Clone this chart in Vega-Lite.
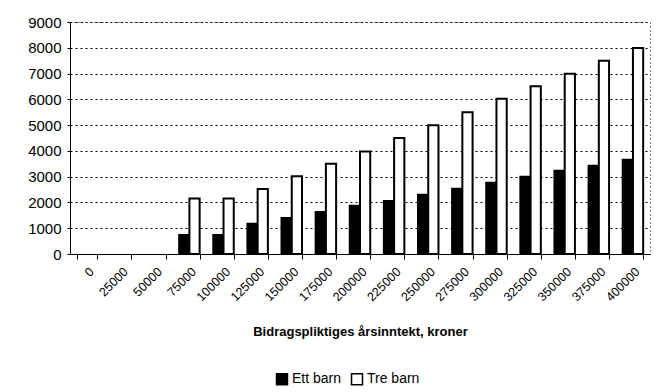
{
  "$schema": "https://vega.github.io/schema/vega-lite/v6.json",
  "width": 580,
  "height": 232,
  "autosize": "none",
  "padding": {"left": 70, "top": 22, "right": 6, "bottom": 138},
  "background": "white",
  "config": {
    "font": "Liberation Sans",
    "view": {"stroke": "black", "strokeDash": [1, 3], "strokeWidth": 1}
  },
  "data": {
    "values": [
      {"inntekt": "0", "serie": "Ett barn", "bidrag": 0},
      {"inntekt": "0", "serie": "Tre barn", "bidrag": 0},
      {"inntekt": "25000", "serie": "Ett barn", "bidrag": 0},
      {"inntekt": "25000", "serie": "Tre barn", "bidrag": 0},
      {"inntekt": "50000", "serie": "Ett barn", "bidrag": 0},
      {"inntekt": "50000", "serie": "Tre barn", "bidrag": 0},
      {"inntekt": "75000", "serie": "Ett barn", "bidrag": 740},
      {"inntekt": "75000", "serie": "Tre barn", "bidrag": 2150},
      {"inntekt": "100000", "serie": "Ett barn", "bidrag": 740},
      {"inntekt": "100000", "serie": "Tre barn", "bidrag": 2150},
      {"inntekt": "125000", "serie": "Ett barn", "bidrag": 1170},
      {"inntekt": "125000", "serie": "Tre barn", "bidrag": 2520},
      {"inntekt": "150000", "serie": "Ett barn", "bidrag": 1400},
      {"inntekt": "150000", "serie": "Tre barn", "bidrag": 3020},
      {"inntekt": "175000", "serie": "Ett barn", "bidrag": 1630},
      {"inntekt": "175000", "serie": "Tre barn", "bidrag": 3500},
      {"inntekt": "200000", "serie": "Ett barn", "bidrag": 1870},
      {"inntekt": "200000", "serie": "Tre barn", "bidrag": 3980},
      {"inntekt": "225000", "serie": "Ett barn", "bidrag": 2060},
      {"inntekt": "225000", "serie": "Tre barn", "bidrag": 4500},
      {"inntekt": "250000", "serie": "Ett barn", "bidrag": 2300},
      {"inntekt": "250000", "serie": "Tre barn", "bidrag": 4990},
      {"inntekt": "275000", "serie": "Ett barn", "bidrag": 2530},
      {"inntekt": "275000", "serie": "Tre barn", "bidrag": 5500},
      {"inntekt": "300000", "serie": "Ett barn", "bidrag": 2760},
      {"inntekt": "300000", "serie": "Tre barn", "bidrag": 6020},
      {"inntekt": "325000", "serie": "Ett barn", "bidrag": 3000},
      {"inntekt": "325000", "serie": "Tre barn", "bidrag": 6510},
      {"inntekt": "350000", "serie": "Ett barn", "bidrag": 3230},
      {"inntekt": "350000", "serie": "Tre barn", "bidrag": 6990},
      {"inntekt": "375000", "serie": "Ett barn", "bidrag": 3420},
      {"inntekt": "375000", "serie": "Tre barn", "bidrag": 7500},
      {"inntekt": "400000", "serie": "Ett barn", "bidrag": 3660},
      {"inntekt": "400000", "serie": "Tre barn", "bidrag": 7990}
    ]
  },
  "mark": {"type": "bar", "strokeWidth": 2},
  "encoding": {
    "x": {
      "field": "inntekt",
      "type": "nominal",
      "sort": null,
      "scale": {"paddingInner": 0.4, "paddingOuter": 0.2},
      "axis": {
        "title": "Bidragspliktiges årsinntekt, kroner",
        "titleFont": "Liberation Sans",
        "titleFontSize": 13,
        "titleFontWeight": "bold",
        "titleColor": "black",
        "titlePadding": 22,
        "labelAngle": -45,
        "labelFontSize": 12.5,
        "labelColor": "black",
        "labelPadding": 6,
        "tickBand": "extent",
        "tickColor": "black",
        "tickSize": 5,
        "domainColor": "black",
        "grid": false
      }
    },
    "y": {
      "field": "bidrag",
      "type": "quantitative",
      "scale": {"domain": [0, 9000]},
      "axis": {
        "title": null,
        "values": [0, 1000, 2000, 3000, 4000, 5000, 6000, 7000, 8000, 9000],
        "format": "d",
        "labelFontSize": 15,
        "labelColor": "black",
        "labelPadding": 6,
        "tickColor": "black",
        "tickSize": 3,
        "domainColor": "black",
        "grid": true,
        "gridColor": "black",
        "gridDash": [2, 3],
        "gridWidth": 1
      }
    },
    "xOffset": {"field": "serie", "type": "nominal"},
    "stroke": {
      "condition": {"test": "datum.bidrag > 0", "value": "black"},
      "value": null
    },
    "fill": {
      "field": "serie",
      "type": "nominal",
      "scale": {"domain": ["Ett barn", "Tre barn"], "range": ["black", "white"]},
      "legend": {
        "title": null,
        "orient": "none",
        "direction": "horizontal",
        "legendX": 205,
        "legendY": 350,
        "symbolType": "square",
        "symbolSize": 120,
        "symbolStrokeColor": "black",
        "symbolStrokeWidth": 1.5,
        "labelFontSize": 14,
        "labelColor": "black",
        "labelOffset": 3,
        "columnPadding": 6
      }
    }
  }
}
